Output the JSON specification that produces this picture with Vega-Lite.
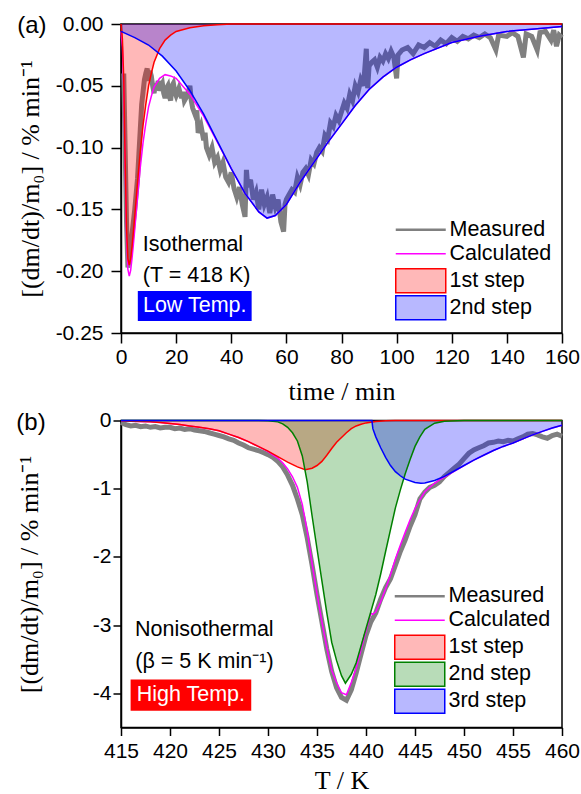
{
  "$schema": "https://vega.github.io/schema/vega-lite/v6.json",
  "padding": {"left": 15, "top": 12, "right": 4, "bottom": 0},
  "spacing": 3.5,
  "datasets": {
    "a_meas": [{"t":1,"v":-0.04},{"t":1.5,"v":-0.1},{"t":2,"v":-0.16},{"t":2.5,"v":-0.197},{"t":3,"v":-0.19},{"t":3.5,"v":-0.18},{"t":4,"v":-0.17},{"t":5,"v":-0.15},{"t":6,"v":-0.125},{"t":6.5,"v":-0.105},{"t":7,"v":-0.085},{"t":7.5,"v":-0.065},{"t":8,"v":-0.055},{"t":8.5,"v":-0.045},{"t":9,"v":-0.04},{"t":9.5,"v":-0.036},{"t":10,"v":-0.046},{"t":10.5,"v":-0.038},{"t":11,"v":-0.042},{"t":11.5,"v":-0.05},{"t":12,"v":-0.056},{"t":12.5,"v":-0.048},{"t":13,"v":-0.052},{"t":13.5,"v":-0.046},{"t":14,"v":-0.054},{"t":14.5,"v":-0.05},{"t":15,"v":-0.048},{"t":15.5,"v":-0.056},{"t":16,"v":-0.06},{"t":16.5,"v":-0.052},{"t":17,"v":-0.05},{"t":17.5,"v":-0.058},{"t":18,"v":-0.062},{"t":18.5,"v":-0.05},{"t":19,"v":-0.048},{"t":19.5,"v":-0.055},{"t":20,"v":-0.058},{"t":21,"v":-0.052},{"t":22,"v":-0.06},{"t":22.5,"v":-0.055},{"t":23,"v":-0.062},{"t":24,"v":-0.058},{"t":25,"v":-0.05},{"t":25.5,"v":-0.062},{"t":26,"v":-0.068},{"t":27,"v":-0.074},{"t":27.5,"v":-0.07},{"t":28,"v":-0.088},{"t":29,"v":-0.082},{"t":30,"v":-0.094},{"t":30.5,"v":-0.088},{"t":31,"v":-0.1},{"t":32,"v":-0.106},{"t":33,"v":-0.1},{"t":34,"v":-0.112},{"t":35,"v":-0.108},{"t":36,"v":-0.118},{"t":37,"v":-0.112},{"t":38,"v":-0.124},{"t":39,"v":-0.128},{"t":40,"v":-0.12},{"t":41,"v":-0.133},{"t":42,"v":-0.14},{"t":43,"v":-0.132},{"t":44,"v":-0.146},{"t":45,"v":-0.156},{"t":45.5,"v":-0.118},{"t":46,"v":-0.132},{"t":47,"v":-0.126},{"t":48,"v":-0.142},{"t":49,"v":-0.136},{"t":50,"v":-0.15},{"t":51,"v":-0.134},{"t":52,"v":-0.146},{"t":53,"v":-0.14},{"t":54,"v":-0.153},{"t":55,"v":-0.138},{"t":56,"v":-0.148},{"t":57,"v":-0.142},{"t":58,"v":-0.16},{"t":59,"v":-0.168},{"t":59.5,"v":-0.146},{"t":60,"v":-0.142},{"t":61,"v":-0.138},{"t":62,"v":-0.134},{"t":63,"v":-0.136},{"t":64,"v":-0.124},{"t":65,"v":-0.13},{"t":66,"v":-0.12},{"t":67,"v":-0.117},{"t":68,"v":-0.122},{"t":69,"v":-0.11},{"t":70,"v":-0.113},{"t":71,"v":-0.104},{"t":72,"v":-0.1},{"t":73,"v":-0.103},{"t":74,"v":-0.09},{"t":75,"v":-0.093},{"t":76,"v":-0.08},{"t":77,"v":-0.083},{"t":78,"v":-0.074},{"t":79,"v":-0.078},{"t":80,"v":-0.071},{"t":81,"v":-0.064},{"t":82,"v":-0.068},{"t":83,"v":-0.057},{"t":84,"v":-0.062},{"t":85,"v":-0.05},{"t":86,"v":-0.055},{"t":87,"v":-0.045},{"t":88,"v":-0.05},{"t":89,"v":-0.02},{"t":89.5,"v":-0.052},{"t":90,"v":-0.034},{"t":91,"v":-0.031},{"t":92,"v":-0.029},{"t":93,"v":-0.035},{"t":94,"v":-0.027},{"t":95,"v":-0.03},{"t":96,"v":-0.024},{"t":97,"v":-0.028},{"t":98,"v":-0.022},{"t":99,"v":-0.027},{"t":100,"v":-0.044},{"t":100.5,"v":-0.025},{"t":102,"v":-0.021},{"t":104,"v":-0.019},{"t":106,"v":-0.024},{"t":108,"v":-0.017},{"t":110,"v":-0.019},{"t":112,"v":-0.015},{"t":114,"v":-0.018},{"t":116,"v":-0.013},{"t":118,"v":-0.016},{"t":120,"v":-0.011},{"t":122,"v":-0.014},{"t":124,"v":-0.01},{"t":126,"v":-0.012},{"t":128,"v":-0.009},{"t":130,"v":-0.011},{"t":132,"v":-0.008},{"t":134,"v":-0.011},{"t":136,"v":-0.021},{"t":137,"v":-0.009},{"t":140,"v":-0.01},{"t":142,"v":-0.007},{"t":144,"v":-0.01},{"t":146,"v":-0.027},{"t":147,"v":-0.008},{"t":149,"v":-0.01},{"t":151,"v":-0.021},{"t":152,"v":-0.007},{"t":154,"v":-0.006},{"t":156,"v":-0.013},{"t":157,"v":-0.005},{"t":158,"v":-0.018},{"t":159,"v":-0.009},{"t":160,"v":-0.011}],
    "a_calc": [{"t":0,"v":-0.006},{"t":0.5,"v":-0.0185},{"t":1,"v":-0.052},{"t":1.5,"v":-0.1175},{"t":2,"v":-0.173},{"t":2.5,"v":-0.1985},{"t":3,"v":-0.204},{"t":3.5,"v":-0.1993},{"t":4,"v":-0.1897},{"t":4.5,"v":-0.1783},{"t":5,"v":-0.166},{"t":6,"v":-0.14},{"t":7,"v":-0.116},{"t":8,"v":-0.096},{"t":9,"v":-0.0805},{"t":10,"v":-0.067},{"t":11,"v":-0.0585},{"t":12,"v":-0.051},{"t":14,"v":-0.044},{"t":16,"v":-0.041},{"t":18,"v":-0.042},{"t":20,"v":-0.044},{"t":25,"v":-0.057},{"t":30,"v":-0.0745},{"t":35,"v":-0.0957},{"t":40,"v":-0.117},{"t":45,"v":-0.137},{"t":50,"v":-0.152},{"t":53,"v":-0.157},{"t":56,"v":-0.155},{"t":60,"v":-0.146},{"t":65,"v":-0.128},{"t":70,"v":-0.112},{"t":75,"v":-0.096},{"t":80,"v":-0.081},{"t":85,"v":-0.066},{"t":90,"v":-0.053},{"t":95,"v":-0.043},{"t":100,"v":-0.035},{"t":105,"v":-0.029},{"t":110,"v":-0.024},{"t":120,"v":-0.015},{"t":130,"v":-0.01},{"t":140,"v":-0.006},{"t":150,"v":-0.004},{"t":160,"v":-0.002}],
    "a_red": [{"t":0,"v":0},{"t":0.5,"v":-0.012},{"t":1,"v":-0.045},{"t":1.5,"v":-0.11},{"t":2,"v":-0.165},{"t":2.5,"v":-0.19},{"t":3,"v":-0.195},{"t":3.5,"v":-0.19},{"t":4,"v":-0.18},{"t":4.5,"v":-0.168},{"t":5,"v":-0.155},{"t":6,"v":-0.128},{"t":7,"v":-0.103},{"t":8,"v":-0.082},{"t":9,"v":-0.065},{"t":10,"v":-0.05},{"t":11,"v":-0.04},{"t":12,"v":-0.031},{"t":14,"v":-0.02},{"t":16,"v":-0.013},{"t":18,"v":-0.009},{"t":20,"v":-0.006},{"t":25,"v":-0.003},{"t":30,"v":-0.0015},{"t":35,"v":-0.0007},{"t":40,"v":0},{"t":160,"v":0}],
    "a_blue": [{"t":0,"v":-0.006},{"t":5,"v":-0.011},{"t":10,"v":-0.017},{"t":15,"v":-0.026},{"t":20,"v":-0.038},{"t":25,"v":-0.054},{"t":30,"v":-0.073},{"t":35,"v":-0.095},{"t":40,"v":-0.117},{"t":45,"v":-0.137},{"t":50,"v":-0.152},{"t":53,"v":-0.157},{"t":56,"v":-0.155},{"t":60,"v":-0.146},{"t":65,"v":-0.128},{"t":70,"v":-0.112},{"t":75,"v":-0.096},{"t":80,"v":-0.081},{"t":85,"v":-0.066},{"t":90,"v":-0.053},{"t":95,"v":-0.043},{"t":100,"v":-0.035},{"t":105,"v":-0.029},{"t":110,"v":-0.024},{"t":120,"v":-0.015},{"t":130,"v":-0.01},{"t":140,"v":-0.006},{"t":150,"v":-0.004},{"t":160,"v":-0.002}],
    "b_meas": [{"t":415,"v":-0.03},{"t":415.5,"v":-0.06},{"t":416,"v":-0.08},{"t":416.5,"v":-0.07},{"t":417,"v":-0.09},{"t":417.5,"v":-0.08},{"t":418,"v":-0.1},{"t":418.5,"v":-0.09},{"t":419,"v":-0.11},{"t":419.5,"v":-0.1},{"t":420,"v":-0.1},{"t":420.5,"v":-0.12},{"t":421,"v":-0.11},{"t":421.5,"v":-0.13},{"t":422,"v":-0.12},{"t":422.5,"v":-0.14},{"t":423,"v":-0.15},{"t":423.5,"v":-0.16},{"t":424,"v":-0.18},{"t":424.5,"v":-0.2},{"t":425,"v":-0.22},{"t":425.5,"v":-0.24},{"t":426,"v":-0.27},{"t":426.5,"v":-0.29},{"t":427,"v":-0.33},{"t":427.5,"v":-0.36},{"t":428,"v":-0.4},{"t":428.5,"v":-0.42},{"t":429,"v":-0.44},{"t":429.5,"v":-0.47},{"t":430,"v":-0.5},{"t":430.5,"v":-0.54},{"t":431,"v":-0.6},{"t":431.5,"v":-0.68},{"t":432,"v":-0.8},{"t":432.5,"v":-0.95},{"t":433,"v":-1.15},{"t":433.5,"v":-1.38},{"t":434,"v":-1.72},{"t":434.5,"v":-2.12},{"t":435,"v":-2.55},{"t":435.5,"v":-2.95},{"t":436,"v":-3.35},{"t":436.5,"v":-3.68},{"t":437,"v":-3.92},{"t":437.5,"v":-4.06},{"t":438,"v":-4.1},{"t":438.5,"v":-3.95},{"t":439,"v":-3.7},{"t":439.5,"v":-3.42},{"t":440,"v":-3.15},{"t":440.5,"v":-2.95},{"t":441,"v":-2.82},{"t":441.5,"v":-2.62},{"t":442,"v":-2.45},{"t":442.5,"v":-2.32},{"t":443,"v":-2.12},{"t":443.5,"v":-1.92},{"t":444,"v":-1.75},{"t":444.5,"v":-1.55},{"t":445,"v":-1.38},{"t":445.5,"v":-1.15},{"t":446,"v":-1.05},{"t":446.5,"v":-0.98},{"t":447,"v":-0.95},{"t":447.5,"v":-0.9},{"t":448,"v":-0.82},{"t":448.5,"v":-0.76},{"t":449,"v":-0.7},{"t":449.5,"v":-0.64},{"t":450,"v":-0.56},{"t":450.5,"v":-0.48},{"t":451,"v":-0.43},{"t":451.5,"v":-0.4},{"t":452,"v":-0.37},{"t":452.5,"v":-0.33},{"t":453,"v":-0.32},{"t":453.5,"v":-0.3},{"t":454,"v":-0.31},{"t":454.5,"v":-0.29},{"t":455,"v":-0.3},{"t":455.5,"v":-0.27},{"t":456,"v":-0.24},{"t":456.5,"v":-0.2},{"t":457,"v":-0.19},{"t":457.5,"v":-0.21},{"t":458,"v":-0.24},{"t":458.5,"v":-0.26},{"t":459,"v":-0.22},{"t":459.5,"v":-0.2},{"t":460,"v":-0.23}],
    "b_calc": [{"t":415,"v":-0.01},{"t":416,"v":-0.012},{"t":417,"v":-0.015},{"t":418,"v":-0.02},{"t":419,"v":-0.03},{"t":420,"v":-0.045},{"t":421,"v":-0.06},{"t":422,"v":-0.08},{"t":423,"v":-0.1},{"t":424,"v":-0.12},{"t":425,"v":-0.15},{"t":426,"v":-0.2},{"t":427,"v":-0.25},{"t":428,"v":-0.31},{"t":429,"v":-0.38},{"t":430,"v":-0.455},{"t":430.5,"v":-0.502},{"t":431,"v":-0.55},{"t":431.5,"v":-0.62},{"t":432,"v":-0.71},{"t":432.5,"v":-0.825},{"t":433,"v":-0.98},{"t":433.5,"v":-1.23},{"t":434,"v":-1.62},{"t":434.5,"v":-2.1},{"t":435,"v":-2.54},{"t":435.5,"v":-2.95},{"t":436,"v":-3.33},{"t":436.5,"v":-3.66},{"t":437,"v":-3.84},{"t":437.5,"v":-3.99},{"t":438,"v":-4.02},{"t":438.5,"v":-3.84},{"t":439,"v":-3.63},{"t":439.5,"v":-3.355},{"t":440,"v":-3.085},{"t":440.5,"v":-2.825},{"t":440.7,"v":-2.84},{"t":441,"v":-2.805},{"t":441.5,"v":-2.66},{"t":442,"v":-2.465},{"t":442.5,"v":-2.262},{"t":443,"v":-2.03},{"t":443.5,"v":-1.83},{"t":444,"v":-1.64},{"t":444.5,"v":-1.455},{"t":445,"v":-1.29},{"t":445.5,"v":-1.16},{"t":446,"v":-1.045},{"t":446.5,"v":-0.98},{"t":447,"v":-0.92},{"t":447.5,"v":-0.87},{"t":448,"v":-0.83},{"t":449,"v":-0.745},{"t":450,"v":-0.66},{"t":451,"v":-0.58},{"t":452,"v":-0.51},{"t":453,"v":-0.44},{"t":454,"v":-0.38},{"t":455,"v":-0.33},{"t":456,"v":-0.27},{"t":457,"v":-0.21},{"t":458,"v":-0.16},{"t":459,"v":-0.11},{"t":460,"v":-0.07}],
    "b_red": [{"t":415,"v":-0.005},{"t":416,"v":-0.01},{"t":417,"v":-0.015},{"t":418,"v":-0.02},{"t":419,"v":-0.03},{"t":420,"v":-0.045},{"t":421,"v":-0.06},{"t":422,"v":-0.08},{"t":423,"v":-0.1},{"t":424,"v":-0.12},{"t":425,"v":-0.15},{"t":426,"v":-0.2},{"t":427,"v":-0.25},{"t":428,"v":-0.31},{"t":429,"v":-0.38},{"t":430,"v":-0.45},{"t":431,"v":-0.53},{"t":432,"v":-0.61},{"t":433,"v":-0.68},{"t":433.8,"v":-0.72},{"t":434.5,"v":-0.7},{"t":435,"v":-0.66},{"t":435.5,"v":-0.6},{"t":436,"v":-0.51},{"t":436.5,"v":-0.41},{"t":437,"v":-0.32},{"t":437.5,"v":-0.25},{"t":438,"v":-0.18},{"t":438.5,"v":-0.12},{"t":439,"v":-0.08},{"t":439.5,"v":-0.055},{"t":440,"v":-0.035},{"t":441,"v":-0.015},{"t":442,"v":-0.005},{"t":443,"v":0},{"t":460,"v":0}],
    "b_green": [{"t":415,"v":0},{"t":429,"v":0},{"t":430,"v":-0.005},{"t":431,"v":-0.02},{"t":431.5,"v":-0.05},{"t":432,"v":-0.1},{"t":432.5,"v":-0.18},{"t":433,"v":-0.3},{"t":433.5,"v":-0.52},{"t":434,"v":-0.9},{"t":434.5,"v":-1.4},{"t":435,"v":-1.88},{"t":435.5,"v":-2.35},{"t":436,"v":-2.82},{"t":436.5,"v":-3.25},{"t":437,"v":-3.52},{"t":437.5,"v":-3.74},{"t":437.9,"v":-3.85},{"t":438.5,"v":-3.72},{"t":439,"v":-3.55},{"t":439.5,"v":-3.3},{"t":440,"v":-3.05},{"t":440.5,"v":-2.8},{"t":441,"v":-2.55},{"t":441.5,"v":-2.25},{"t":442,"v":-1.92},{"t":442.5,"v":-1.6},{"t":443,"v":-1.28},{"t":443.5,"v":-1.02},{"t":444,"v":-0.78},{"t":444.5,"v":-0.57},{"t":445,"v":-0.38},{"t":445.5,"v":-0.24},{"t":446,"v":-0.13},{"t":447,"v":-0.04},{"t":448,"v":-0.01},{"t":450,"v":0},{"t":460,"v":0}],
    "b_blue": [{"t":415,"v":0},{"t":440.6,"v":0},{"t":440.7,"v":-0.12},{"t":441,"v":-0.24},{"t":441.5,"v":-0.4},{"t":442,"v":-0.54},{"t":442.5,"v":-0.66},{"t":443,"v":-0.75},{"t":443.5,"v":-0.81},{"t":444,"v":-0.86},{"t":445,"v":-0.91},{"t":445.6,"v":-0.92},{"t":446,"v":-0.915},{"t":447,"v":-0.88},{"t":448,"v":-0.82},{"t":449,"v":-0.74},{"t":450,"v":-0.66},{"t":451,"v":-0.58},{"t":452,"v":-0.51},{"t":453,"v":-0.44},{"t":454,"v":-0.38},{"t":455,"v":-0.33},{"t":456,"v":-0.27},{"t":457,"v":-0.21},{"t":458,"v":-0.16},{"t":459,"v":-0.11},{"t":460,"v":-0.07}]
  },
  "vconcat": [
    {
      "width": 441,
      "height": 309,
      "title": {"text": "(a)", "anchor": "start", "frame": "bounds", "font": "Liberation Sans", "fontSize": 24, "fontWeight": "normal", "color": "#000", "offset": 0, "dy": 25},
      "layer": [
        {
          "data": {"name": "a_meas"},
          "mark": {"type": "line", "strokeWidth": 5},
          "encoding": {
            "x": {"field": "t", "type": "quantitative", "scale": {"domain": [0, 160], "nice": false},
              "axis": {"title": "time / min", "values": [0,10,20,30,40,50,60,70,80,90,100,110,120,130,140,150,160],
                "labelExpr": "datum.value % 20 === 0 ? datum.label : ''",
                "tickSize": {"condition": {"test": "datum.value % 20 === 0", "value": 10}, "value": 5},
                "labelPadding": 3, "titlePadding": 11}},
            "y": {"field": "v", "type": "quantitative", "scale": {"domain": [-0.25, 0], "nice": false},
              "axis": {"title": "[(dm/dt)/m₀] / % min⁻¹", "values": [0,-0.025,-0.05,-0.075,-0.1,-0.125,-0.15,-0.175,-0.2,-0.225,-0.25],
                "labelExpr": "abs(round(datum.value*1000)) % 50 === 0 ? replace(format(datum.value, '.2f'), '\u2212', '-') : ''",
                "tickSize": {"condition": {"test": "abs(round(datum.value*1000)) % 50 === 0", "value": 10}, "value": 5},
                "labelPadding": 8, "titlePadding": 12}},
            "color": {"datum": "Measured", "type": "nominal",
              "scale": {"domain": ["Measured", "Calculated", "1st step", "2nd step"], "range": ["#808080", "#ff00ff", "#ff0000", "#0000ff"]},
              "legend": {"title": null, "orient": "bottom-right", "offset": 10,
                "encode": {"symbols": {"update": {
                  "shape": {"signal": "datum.value === 'Measured' ? 'M-1,-0.48M-1,0.48M-1,-0.05H1V0.05H-1Z' : datum.value === 'Calculated' ? 'M-1,-0.48M-1,0.48M-1,0H1' : 'M-1,-0.48H1V0.48H-1Z'"},
                  "strokeWidth": {"signal": "datum.value === 'Measured' ? 0 : 1.5"},
                  "stroke": {"signal": "datum.value === 'Measured' ? 'transparent' : datum.value === 'Calculated' ? '#ff00ff' : datum.value === '1st step' ? '#ff0000' : '#0000ff'"},
                  "fill": {"signal": "datum.value === 'Measured' ? '#808080' : datum.value === '1st step' ? '#ff0000' : datum.value === '2nd step' ? '#0000ff' : 'transparent'"},
                  "fillOpacity": {"signal": "datum.value === 'Measured' ? 1 : 0.28"},
                  "opacity": {"value": 1}}}}}}
          }
        },
        {"data": {"name": "a_red"}, "mark": {"type": "area", "fillOpacity": 0.28},
          "encoding": {"x": {"field": "t", "type": "quantitative"}, "y": {"field": "v", "type": "quantitative", "stack": null}, "color": {"datum": "1st step", "type": "nominal"}}},
        {"data": {"name": "a_blue"}, "mark": {"type": "area", "fillOpacity": 0.28},
          "encoding": {"x": {"field": "t", "type": "quantitative"}, "y": {"field": "v", "type": "quantitative", "stack": null}, "color": {"datum": "2nd step", "type": "nominal"}}},
        {"data": {"name": "a_calc"}, "mark": {"type": "line", "strokeWidth": 1.5},
          "encoding": {"x": {"field": "t", "type": "quantitative"}, "y": {"field": "v", "type": "quantitative"}, "color": {"datum": "Calculated", "type": "nominal"}}},
        {"data": {"name": "a_red"}, "mark": {"type": "line", "strokeWidth": 1.5},
          "encoding": {"x": {"field": "t", "type": "quantitative"}, "y": {"field": "v", "type": "quantitative"}, "color": {"datum": "1st step", "type": "nominal"}}},
        {"data": {"name": "a_blue"}, "mark": {"type": "line", "strokeWidth": 1.5},
          "encoding": {"x": {"field": "t", "type": "quantitative"}, "y": {"field": "v", "type": "quantitative"}, "color": {"datum": "2nd step", "type": "nominal"}}},
        {"data": {"values": [{}]}, "mark": {"type": "text", "text": "Isothermal", "align": "left", "baseline": "middle", "font": "Liberation Sans", "fontSize": 21.5, "color": "#000"},
          "encoding": {"x": {"datum": 7.9}, "y": {"datum": -0.179}}},
        {"data": {"values": [{}]}, "mark": {"type": "text", "text": "(T = 418 K)", "align": "left", "baseline": "middle", "font": "Liberation Sans", "fontSize": 21.5, "color": "#000"},
          "encoding": {"x": {"datum": 7.9}, "y": {"datum": -0.204}}},
        {"data": {"values": [{}]}, "mark": {"type": "rect", "color": "#0000ff"},
          "encoding": {"x": {"datum": 6.1}, "x2": {"datum": 47.4}, "y": {"datum": -0.216}, "y2": {"datum": -0.2403}}},
        {"data": {"values": [{}]}, "mark": {"type": "text", "text": "Low Temp.", "align": "center", "baseline": "middle", "font": "Liberation Sans", "fontSize": 21.5, "color": "#ffffff"},
          "encoding": {"x": {"datum": 26.75}, "y": {"datum": -0.2285}}}
      ]
    },
    {
      "width": 441,
      "height": 307,
      "title": {"text": "(b)", "anchor": "start", "frame": "bounds", "font": "Liberation Sans", "fontSize": 24, "fontWeight": "normal", "color": "#000", "offset": 0, "dy": 25},
      "layer": [
        {
          "data": {"name": "b_meas"},
          "mark": {"type": "line", "strokeWidth": 5},
          "encoding": {
            "x": {"field": "t", "type": "quantitative", "scale": {"domain": [415, 460], "nice": false, "zero": false},
              "axis": {"title": "T / K", "values": [415,417.5,420,422.5,425,427.5,430,432.5,435,437.5,440,442.5,445,447.5,450,452.5,455,457.5,460],
                "labelExpr": "datum.value % 5 === 0 ? datum.label : ''",
                "tickSize": {"condition": {"test": "datum.value % 5 === 0", "value": 8}, "value": 5},
                "labelPadding": 5, "titlePadding": 6}},
            "y": {"field": "v", "type": "quantitative", "scale": {"domain": [-4.5, 0], "nice": false},
              "axis": {"title": "[(dm/dt)/m₀] / % min⁻¹", "values": [0,-0.5,-1,-1.5,-2,-2.5,-3,-3.5,-4],
                "labelExpr": "indexof([0,-1,-2,-3,-4], datum.value) >= 0 ? replace(format(datum.value, 'd'), '\u2212', '-') : ''",
                "tickSize": {"condition": {"test": "indexof([0,-1,-2,-3,-4], datum.value) >= 0", "value": 8}, "value": 5},
                "labelPadding": 2, "titlePadding": 50}},
            "color": {"datum": "Measured", "type": "nominal",
              "scale": {"domain": ["Measured", "Calculated", "1st step", "2nd step", "3rd step"], "range": ["#808080", "#ff00ff", "#ff0000", "#008000", "#0000ff"]},
              "legend": {"title": null, "orient": "bottom-right", "offset": 11,
                "encode": {"symbols": {"update": {
                  "shape": {"signal": "datum.value === 'Measured' ? 'M-1,-0.48M-1,0.48M-1,-0.05H1V0.05H-1Z' : datum.value === 'Calculated' ? 'M-1,-0.48M-1,0.48M-1,0H1' : 'M-1,-0.48H1V0.48H-1Z'"},
                  "strokeWidth": {"signal": "datum.value === 'Measured' ? 0 : 1.5"},
                  "stroke": {"signal": "datum.value === 'Measured' ? 'transparent' : datum.value === 'Calculated' ? '#ff00ff' : datum.value === '1st step' ? '#ff0000' : datum.value === '2nd step' ? '#008000' : '#0000ff'"},
                  "fill": {"signal": "datum.value === 'Measured' ? '#808080' : datum.value === '1st step' ? '#ff0000' : datum.value === '2nd step' ? '#008000' : datum.value === '3rd step' ? '#0000ff' : 'transparent'"},
                  "fillOpacity": {"signal": "datum.value === 'Measured' ? 1 : 0.28"},
                  "opacity": {"value": 1}}}}}}
          }
        },
        {"data": {"name": "b_red"}, "mark": {"type": "area", "fillOpacity": 0.28},
          "encoding": {"x": {"field": "t", "type": "quantitative"}, "y": {"field": "v", "type": "quantitative", "stack": null}, "color": {"datum": "1st step", "type": "nominal"}}},
        {"data": {"name": "b_green"}, "mark": {"type": "area", "fillOpacity": 0.28},
          "encoding": {"x": {"field": "t", "type": "quantitative"}, "y": {"field": "v", "type": "quantitative", "stack": null}, "color": {"datum": "2nd step", "type": "nominal"}}},
        {"data": {"name": "b_blue"}, "mark": {"type": "area", "fillOpacity": 0.28},
          "encoding": {"x": {"field": "t", "type": "quantitative"}, "y": {"field": "v", "type": "quantitative", "stack": null}, "color": {"datum": "3rd step", "type": "nominal"}}},
        {"data": {"name": "b_calc"}, "mark": {"type": "line", "strokeWidth": 1.5},
          "encoding": {"x": {"field": "t", "type": "quantitative"}, "y": {"field": "v", "type": "quantitative"}, "color": {"datum": "Calculated", "type": "nominal"}}},
        {"data": {"name": "b_red"}, "mark": {"type": "line", "strokeWidth": 1.5},
          "encoding": {"x": {"field": "t", "type": "quantitative"}, "y": {"field": "v", "type": "quantitative"}, "color": {"datum": "1st step", "type": "nominal"}}},
        {"data": {"name": "b_green"}, "mark": {"type": "line", "strokeWidth": 1.5},
          "encoding": {"x": {"field": "t", "type": "quantitative"}, "y": {"field": "v", "type": "quantitative"}, "color": {"datum": "2nd step", "type": "nominal"}}},
        {"data": {"name": "b_blue"}, "mark": {"type": "line", "strokeWidth": 1.5},
          "encoding": {"x": {"field": "t", "type": "quantitative"}, "y": {"field": "v", "type": "quantitative"}, "color": {"datum": "3rd step", "type": "nominal"}}},
        {"data": {"values": [{}]}, "mark": {"type": "text", "text": "Nonisothermal", "align": "left", "baseline": "middle", "font": "Liberation Sans", "fontSize": 21.5, "color": "#000"},
          "encoding": {"x": {"datum": 416.43}, "y": {"datum": -3.078}}},
        {"data": {"values": [{}]}, "mark": {"type": "text", "text": "(β = 5 K min⁻¹)", "align": "left", "baseline": "middle", "font": "Liberation Sans", "fontSize": 21.5, "color": "#000"},
          "encoding": {"x": {"datum": 416.46}, "y": {"datum": -3.543}}},
        {"data": {"values": [{}]}, "mark": {"type": "rect", "color": "#ff0000"},
          "encoding": {"x": {"datum": 415.98}, "x2": {"datum": 428.29}, "y": {"datum": -3.797}, "y2": {"datum": -4.253}}},
        {"data": {"values": [{}]}, "mark": {"type": "text", "text": "High Temp.", "align": "center", "baseline": "middle", "font": "Liberation Sans", "fontSize": 21.5, "color": "#ffffff"},
          "encoding": {"x": {"datum": 422.13}, "y": {"datum": -4.028}}}
      ]
    }
  ],
  "resolve": {"scale": {"color": "independent"}, "legend": {"color": "independent"}},
  "config": {
    "font": "Liberation Sans",
    "view": {"stroke": "#000", "strokeWidth": 1.5},
    "axis": {"grid": false, "domainColor": "#000", "domainWidth": 1.5, "tickColor": "#000", "tickWidth": 1.5,
      "labelFont": "Liberation Sans", "labelFontSize": 21, "labelColor": "#000", "labelFlush": false, "labelOverlap": false,
      "titleFont": "Liberation Serif", "titleFontSize": 26, "titleFontWeight": "normal", "titleColor": "#000"},
    "legend": {"labelFont": "Liberation Sans", "labelFontSize": 21.5, "labelColor": "#000", "symbolSize": 2500, "rowPadding": -4, "labelOffset": 18, "padding": 0}
  }
}
